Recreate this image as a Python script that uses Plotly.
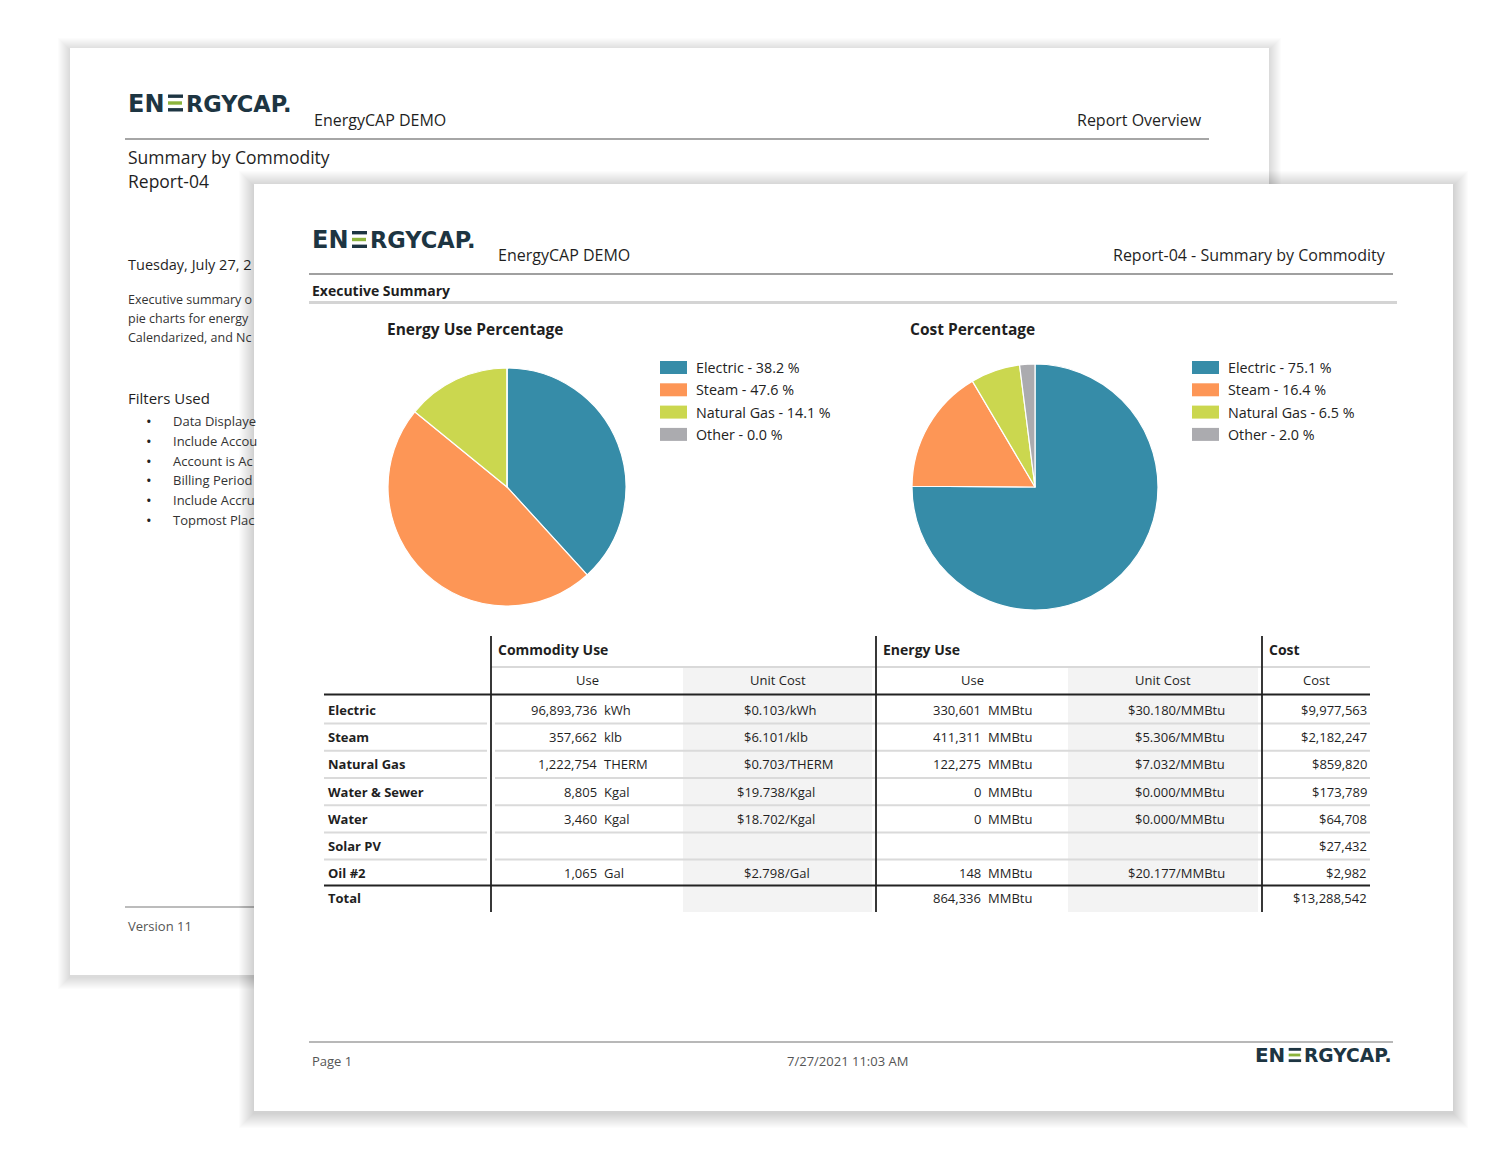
import plotly.graph_objects as go

W, H = 1500, 1159

# ---------------- data ----------------
pie_labels = ["Electric", "Steam", "Natural Gas", "Other"]
energy_pct = [38.2, 47.6, 14.1, 0.0]
cost_pct = [75.1, 16.4, 6.5, 2.0]
pie_colors = ["#368ca8", "#fd9656", "#cbd74f", "#ababaf"]

commodities = ["Electric", "Steam", "Natural Gas", "Water & Sewer", "Water", "Solar PV", "Oil #2"]
use_vals = [96893736, 357662, 1222754, 8805, 3460, None, 1065]
use_units = ["kWh", "klb", "THERM", "Kgal", "Kgal", "", "Gal"]
unit_cost = [0.103, 6.101, 0.703, 19.738, 18.702, None, 2.798]
energy_use = [330601, 411311, 122275, 0, 0, None, 148]
energy_unit_cost = [30.180, 5.306, 7.032, 0.000, 0.000, None, 20.177]
cost_vals = [9977563, 2182247, 859820, 173789, 64708, 27432, 2982]
total_energy = 864336
total_cost = 13288542

back_filters = ["Data Displaye", "Include Accou", "Account is Ac", "Billing Period", "Include Accru", "Topmost Plac"]
back_desc = ["Executive summary o", "pie charts for energy", "Calendarized, and Nc"]

FONT = "Open Sans, Noto Sans, sans-serif"
DARK = "#1f1f1f"
LOGO_DARK = "#1d3542"
LOGO_GREEN = "#8cb43c"


def px(x):
    return x / W


def py(y):
    return 1 - y / H


shapes = []
annotations = []


def rect(x0, y0, x1, y1, fill, line_color=None, lw=0):
    shapes.append(dict(type="rect", xref="paper", yref="paper", layer="below",
                       x0=px(x0), x1=px(x1), y0=py(y1), y1=py(y0),
                       fillcolor=fill,
                       line=dict(width=lw, color=line_color or "rgba(0,0,0,0)")))


def hline(x0, x1, y, color, w=1):
    shapes.append(dict(type="line", xref="paper", yref="paper", layer="below",
                       x0=px(x0), x1=px(x1), y0=py(y), y1=py(y),
                       line=dict(color=color, width=w)))


def vline(x, y0, y1, color, w=1):
    shapes.append(dict(type="line", xref="paper", yref="paper", layer="below",
                       x0=px(x), x1=px(x), y0=py(y0), y1=py(y1),
                       line=dict(color=color, width=w)))


def text(x, y, s, size=13, color=DARK, bold=False, anchor="left", family=FONT):
    if bold:
        s = "<b>" + s + "</b>"
    annotations.append(dict(x=px(x), y=py(y), xref="paper", yref="paper", text=s,
                            showarrow=False, xanchor=anchor, yanchor="middle",
                            borderpad=0,
                            font=dict(size=size, color=color, family=family)))


def shadow(x0, y0, x1, y1, n=12, a=0.011):
    for k in range(n, 0, -1):
        rect(x0 - k, y0 - k + 2, x1 + k, y1 + k + 2, "rgba(0,0,0,%g)" % a)


def logo(x, y, s=1.0):
    fam = "DejaVu Sans, Verdana, sans-serif"
    text(x + 40 * s, y + 0.5 * s, "EN", size=24 * s, color=LOGO_DARK, bold=True, anchor="right", family=fam)
    bx0, bx1 = x + 43 * s, x + 58 * s
    th = 3.4 * s
    rect(bx0, y - 8.5 * s, bx1, y - 8.5 * s + th, LOGO_DARK)
    rect(bx0, y - 1.7 * s, bx1 - 1 * s, y - 1.7 * s + th, LOGO_GREEN)
    rect(bx0, y + 5.1 * s, bx1, y + 5.1 * s + th, LOGO_DARK)
    text(x + 60 * s, y + 0.5 * s, "RGYCAP.", size=22.5 * s, color=LOGO_DARK, bold=True, anchor="left", family=fam)


# ---------------- back page ----------------
shadow(70, 48, 1269, 975)
rect(70, 48, 1269, 975, "white")
logo(125, 103)
text(313, 120, "EnergyCAP DEMO", size=16)
text(1203, 120, "Report Overview", size=16, anchor="right")
hline(125, 1209, 139, "#a6a6a6", 2)
text(127, 157, "Summary by Commodity", size=17.5)
text(127, 181, "Report-04", size=17.5)
text(127, 264, "Tuesday, July 27, 2", size=14.5)
for i, s in enumerate(back_desc):
    text(127, 300 + i * 18.5, s, size=12.5, color="#333333")
text(127, 398, "Filters Used", size=15)
for i, s in enumerate(back_filters):
    yy = 421 + i * 19.8
    text(149, yy, "•", size=15, color="#222222", anchor="center")
    text(172, yy, s, size=13, color="#333333")
hline(125, 254, 907, "#a6a6a6", 1.5)
text(127, 926, "Version 11", size=13, color="#555555")

# ---------------- front page ----------------
shadow(254, 184, 1453, 1111, n=15, a=0.011)
rect(254, 184, 1453, 1111, "white")
logo(309, 239.5)
text(497, 255, "EnergyCAP DEMO", size=16)
text(1387, 255, "Report-04 - Summary by Commodity", size=16, anchor="right")
hline(309, 1393, 274, "#a0a0a0", 2)
text(311, 290, "Executive Summary", size=14, bold=True)
hline(309, 1397, 302.5, "#d4d4d4", 3)

text(386, 329, "Energy Use Percentage", size=15.5, bold=True)
text(909, 329, "Cost Percentage", size=15.5, bold=True)

# legends
for lx, vals in ((660, energy_pct), (1192, cost_pct)):
    for i, (lab, v) in enumerate(zip(pie_labels, vals)):
        yy = 367.5 + i * 22.3
        rect(lx, yy - 6.5, lx + 27, yy + 6.5, pie_colors[i])
        text(lx + 35, yy, "%s - %.1f %%" % (lab, v), size=14.3, color="#222222")

# table
T_L, T_R = 324, 1370
V1, V2, V3 = 491, 876, 1262
rect(683, 667, 872, 912, "#f3f3f3")
rect(1068, 667, 1258, 912, "#f3f3f3")
hline(V1, T_R, 667, "#d9d9d9", 2)

text(497, 650, "Commodity Use", size=14, bold=True)
text(882, 650, "Energy Use", size=14, bold=True)
text(1268, 650, "Cost", size=14, bold=True)
text(587, 680, "Use", size=13, anchor="center")
text(778, 680, "Unit Cost", size=13, anchor="center")
text(972, 680, "Use", size=13, anchor="center")
text(1163, 680, "Unit Cost", size=13, anchor="center")
text(1316, 680, "Cost", size=13, anchor="center")
hline(T_L, T_R, 694.5, "#222222", 2)

ROW0, STEP = 710, 27.2
n = len(commodities)
for i in range(n):
    yy = ROW0 + i * STEP
    if i < n - 1:
        sep = yy + STEP / 2
        hline(T_L, 487, sep, "#dadada", 2)
        hline(495, T_R, sep, "#dadada", 2)
    text(327, yy, commodities[i], size=13, bold=True)
    if use_vals[i] is not None:
        text(598, yy, f"{use_vals[i]:,}", size=13, anchor="right")
        text(603, yy, use_units[i], size=13)
    if unit_cost[i] is not None:
        text(786, yy, f"${unit_cost[i]:.3f}", size=13, anchor="right")
        text(784, yy, "/" + use_units[i], size=13)
    if energy_use[i] is not None:
        text(982, yy, f"{energy_use[i]:,}", size=13, anchor="right")
        text(987, yy, "MMBtu", size=13)
    if energy_unit_cost[i] is not None:
        text(1226, yy, f"${energy_unit_cost[i]:.3f}/MMBtu", size=13, anchor="right")
    text(1368, yy, f"${cost_vals[i]:,}", size=13, anchor="right")

hline(T_L, T_R, 885.5, "#222222", 2)
yt = 898
text(327, yt, "Total", size=13, bold=True)
text(982, yt, f"{total_energy:,}", size=13, anchor="right")
text(987, yt, "MMBtu", size=13)
text(1368, yt, f"${total_cost:,}", size=13, anchor="right")
for vx in (V1, V2, V3):
    vline(vx, 636, 912, "#222222", 1.8)

# footer
hline(309, 1393, 1042, "#a0a0a0", 1.5)
text(311, 1061, "Page 1", size=13, color="#555555")
text(847, 1061, "7/27/2021 11:03 AM", size=13, color="#555555", anchor="center")
logo(1253, 1055, 0.83)

# ---------------- pies ----------------
fig = go.Figure()
fig.add_trace(go.Pie(labels=pie_labels, values=energy_pct, sort=False, direction="clockwise",
                     rotation=0, textinfo="none", hoverinfo="label+percent",
                     marker=dict(colors=pie_colors, line=dict(color="white", width=1.2)),
                     domain=dict(x=[px(388), px(626)], y=[py(606), py(368)]),
                     showlegend=False))
fig.add_trace(go.Pie(labels=pie_labels, values=cost_pct, sort=False, direction="clockwise",
                     rotation=0, textinfo="none", hoverinfo="label+percent",
                     marker=dict(colors=pie_colors, line=dict(color="white", width=1.2)),
                     domain=dict(x=[px(912), px(1158)], y=[py(610), py(364)]),
                     showlegend=False))

fig.update_layout(width=W, height=H, margin=dict(l=0, r=0, t=0, b=0),
                  paper_bgcolor="white", plot_bgcolor="white",
                  shapes=shapes, annotations=annotations, showlegend=False,
                  font=dict(family=FONT))
fig.write_html("out.html", config={"displayModeBar": False},
               post_script="document.body.style.margin='0';document.body.style.padding='0';")
